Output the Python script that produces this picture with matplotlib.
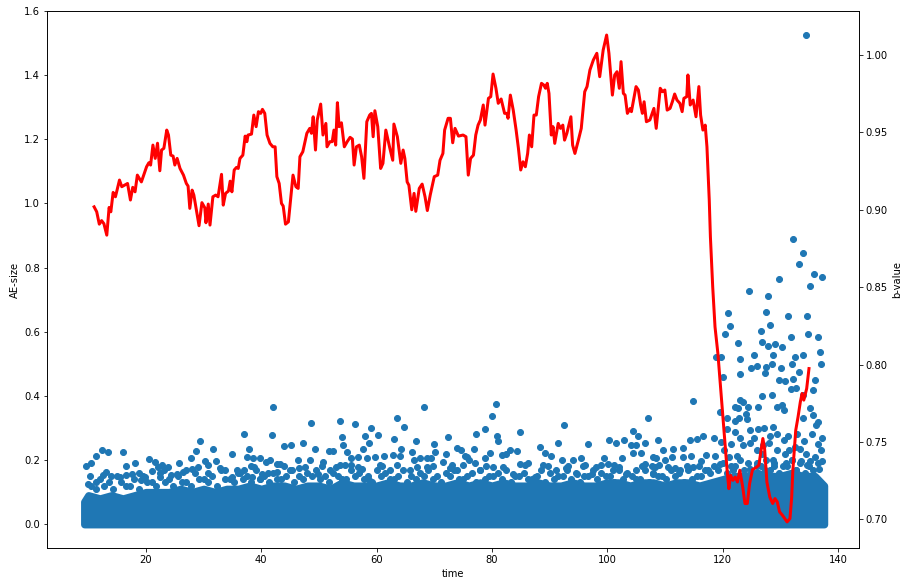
import matplotlib
matplotlib.use("Agg")
import matplotlib.pyplot as plt

# saturated base of the AE cloud: upper edge (centres) of the solid band per time
core_t = [9.3, 10, 12, 14, 16, 18, 20, 22, 24, 26, 28, 30, 32, 34, 36, 38, 40, 42, 44, 46,
          48, 50, 52, 54, 56, 58, 60, 62, 64, 66, 68, 70, 72, 74, 76, 78, 80, 82, 84, 86,
          88, 90, 92, 94, 96, 98, 100, 102, 104, 106, 108, 110, 112, 114, 116, 118, 120, 122,
          124, 126, 128, 130, 132, 134, 136, 137.6]
core_top = [0.07, 0.09, 0.08, 0.09, 0.08, 0.09, 0.10, 0.10, 0.10, 0.11, 0.10, 0.11, 0.10, 0.11,
            0.11, 0.12, 0.11, 0.12, 0.12, 0.11, 0.12, 0.12, 0.11, 0.13, 0.12, 0.12, 0.12, 0.13,
            0.12, 0.12, 0.13, 0.12, 0.12, 0.13, 0.12, 0.13, 0.12, 0.13, 0.12, 0.12, 0.13, 0.12,
            0.12, 0.13, 0.12, 0.12, 0.13, 0.13, 0.12, 0.13, 0.13, 0.12, 0.13, 0.13, 0.12, 0.13,
            0.14, 0.15, 0.15, 0.16, 0.15, 0.15, 0.16, 0.15, 0.15, 0.12]

# ragged upper rim of the band (two staggered rows)
edge_t = [10.5, 12.0, 13.5, 15.0, 16.5, 18.0, 19.5, 21.0, 22.5, 24.0,
          25.5, 27.0, 28.5, 30.0, 31.5, 33.0, 34.5, 36.0, 37.5, 39.0,
          40.5, 42.0, 43.5, 45.0, 46.5, 48.0, 49.5, 51.0, 52.5, 54.0,
          55.5, 57.0, 58.5, 60.0, 61.5, 63.0, 64.5, 66.0, 67.5, 69.0,
          70.5, 72.0, 73.5, 75.0, 76.5, 78.0, 79.5, 81.0, 82.5, 84.0,
          85.5, 87.0, 88.5, 90.0, 91.5, 93.0, 94.5, 96.0, 97.5, 99.0,
          100.5, 102.0, 103.5, 105.0, 106.5, 108.0, 109.5, 111.0, 112.5, 114.0,
          115.5, 117.0, 118.5, 120.0, 121.5, 123.0, 124.5, 126.0, 127.5, 129.0,
          130.5, 132.0, 133.5, 135.0, 136.5]
edge_v = [0.12, 0.14, 0.13, 0.15, 0.12, 0.14, 0.15, 0.13, 0.16, 0.14,
          0.15, 0.13, 0.16, 0.14, 0.15, 0.17, 0.14, 0.16, 0.15, 0.17,
          0.15, 0.16, 0.14, 0.17, 0.15, 0.16, 0.17, 0.15, 0.16, 0.14,
          0.17, 0.16, 0.15, 0.17, 0.16, 0.14, 0.17, 0.15, 0.16, 0.17,
          0.15, 0.16, 0.17, 0.14, 0.16, 0.17, 0.15, 0.16, 0.17, 0.15,
          0.16, 0.14, 0.17, 0.16, 0.15, 0.17, 0.16, 0.15, 0.17, 0.16,
          0.15, 0.17, 0.16, 0.14, 0.17, 0.16, 0.15, 0.17, 0.16, 0.17,
          0.15, 0.17, 0.18, 0.19, 0.18, 0.20, 0.19, 0.18, 0.20, 0.19,
          0.18, 0.20, 0.19, 0.18, 0.19]
edge2_t = [11.25, 12.75, 14.25, 15.75, 17.25, 18.75, 20.25, 21.75, 23.25, 24.75,
           26.25, 27.75, 29.25, 30.75, 32.25, 33.75, 35.25, 36.75, 38.25, 39.75,
           41.25, 42.75, 44.25, 45.75, 47.25, 48.75, 50.25, 51.75, 53.25, 54.75,
           56.25, 57.75, 59.25, 60.75, 62.25, 63.75, 65.25, 66.75, 68.25, 69.75,
           71.25, 72.75, 74.25, 75.75, 77.25, 78.75, 80.25, 81.75, 83.25, 84.75,
           86.25, 87.75, 89.25, 90.75, 92.25, 93.75, 95.25, 96.75, 98.25, 99.75,
           101.25, 102.75, 104.25, 105.75, 107.25, 108.75, 110.25, 111.75, 113.25, 114.75,
           116.25, 117.75, 119.25, 120.75, 122.25, 123.75, 125.25, 126.75, 128.25, 129.75,
           131.25, 132.75, 134.25, 135.75]
edge2_v = [0.11, 0.12, 0.11, 0.13, 0.12, 0.11, 0.13, 0.12, 0.13, 0.12,
           0.13, 0.12, 0.14, 0.13, 0.12, 0.14, 0.13, 0.14, 0.13, 0.14,
           0.13, 0.14, 0.15, 0.13, 0.14, 0.15, 0.14, 0.13, 0.15, 0.14,
           0.15, 0.14, 0.13, 0.15, 0.14, 0.15, 0.13, 0.14, 0.15, 0.14,
           0.13, 0.15, 0.14, 0.15, 0.13, 0.14, 0.15, 0.14, 0.13, 0.15,
           0.14, 0.15, 0.13, 0.14, 0.15, 0.14, 0.13, 0.15, 0.14, 0.15,
           0.13, 0.14, 0.15, 0.14, 0.13, 0.15, 0.14, 0.15, 0.13, 0.14,
           0.15, 0.16, 0.17, 0.16, 0.18, 0.17, 0.16, 0.18, 0.17, 0.16,
           0.18, 0.17, 0.16, 0.17]

# individual events standing out above the band (time < 118)
fringe_t = [42.1, 37.0, 41.9, 29.4, 12.3, 13.4, 11.3, 16.0, 31.6, 28.6, 37.9, 35.0, 10.4, 9.6,
            20.6, 21.6, 22.8, 23.9, 25.8, 27.8, 18.1, 16.6, 30.2, 30.8, 32.1, 37.5, 38.6, 39.8,
            40.9, 42.8, 38.3, 10.3, 12.6, 13.0, 16.6, 17.5, 22.1, 29.1, 33.7, 35.8, 38.8, 40.2,
            41.2, 10.0, 11.4, 15.5, 19.2, 19.8, 22.4, 24.4, 26.5, 27.0, 25.3, 30.8, 34.9, 36.3,
            38.4, 39.8, 42.7,
            68.2, 48.7, 53.6, 56.2, 63.5, 64.8, 59.0, 54.0, 58.0, 60.3, 63.1, 66.9, 72.4, 43.9,
            45.1, 47.3, 49.3, 54.2, 54.8, 51.7, 52.5, 57.6, 58.6, 64.3, 66.2, 70.0, 70.1, 73.9,
            74.7, 41.5, 43.2, 46.4, 48.4, 50.7, 53.6, 55.5, 56.8, 58.3, 59.7, 61.2, 62.9, 64.0,
            66.5, 67.5, 68.7, 69.5, 72.1, 71.6, 75.3, 73.0, 60.6, 45.3, 47.6, 49.9, 51.9, 54.5,
            56.8, 58.7, 62.3, 65.8, 68.7, 73.9, 76.0,
            80.7, 80.1, 78.8, 77.3, 80.8, 81.1, 84.9, 92.5, 107.1, 88.3, 91.4, 96.6, 100.3, 101.6,
            102.9, 104.5, 105.4, 104.1, 105.0, 106.5, 104.5, 105.8, 108.8, 76.9, 79.6, 83.1, 84.3,
            89.2, 90.3, 92.1, 94.1, 95.4, 99.4, 102.5, 101.2, 108.4, 75.6, 77.0, 78.8, 81.7, 82.5,
            86.3, 88.8, 93.2, 96.1, 98.1, 100.1, 106.5, 107.7, 84.9, 77.9, 80.2, 83.7, 87.4, 91.2,
            94.7, 97.3, 101.0, 103.3, 105.0, 107.9,
            114.8, 109.6, 111.4, 113.2, 114.3, 115.5, 116.6, 108.0, 110.0, 111.3, 113.2, 114.6,
            116.3, 117.2, 108.3, 110.5, 112.6, 114.9, 117.5,
            14.0, 18.8, 21.0, 23.2, 28.0, 32.8, 37.0, 44.0, 46.5, 50.5, 53.0, 55.5, 57.5, 61.0,
            63.5, 67.0, 69.8, 72.8, 75.0, 79.0, 82.0, 85.8, 89.8, 92.8, 95.8, 99.0, 102.0, 106.0,
            109.0, 111.8, 113.8, 116.0]
fringe_v = [0.366, 0.280, 0.278, 0.259, 0.231, 0.224, 0.213, 0.226, 0.234, 0.228, 0.236, 0.218,
            0.191, 0.181, 0.202, 0.194, 0.184, 0.177, 0.191, 0.205, 0.192, 0.181, 0.197, 0.184,
            0.197, 0.210, 0.205, 0.207, 0.194, 0.189, 0.181, 0.151, 0.153, 0.163, 0.153, 0.158,
            0.177, 0.179, 0.168, 0.170, 0.179, 0.158, 0.160, 0.124, 0.132, 0.147, 0.139, 0.147,
            0.147, 0.153, 0.163, 0.168, 0.158, 0.160, 0.147, 0.160, 0.147, 0.142, 0.163,
            0.365, 0.314, 0.322, 0.312, 0.332, 0.303, 0.301, 0.272, 0.275, 0.278, 0.267, 0.260,
            0.272, 0.243, 0.248, 0.254, 0.234, 0.246, 0.226, 0.229, 0.228, 0.236, 0.252, 0.236,
            0.226, 0.249, 0.226, 0.237, 0.231, 0.199, 0.189, 0.199, 0.201, 0.194, 0.184, 0.205,
            0.210, 0.205, 0.210, 0.212, 0.217, 0.212, 0.199, 0.205, 0.205, 0.205, 0.220, 0.194,
            0.212, 0.184, 0.184, 0.168, 0.179, 0.158, 0.168, 0.184, 0.179, 0.137, 0.168, 0.168,
            0.179, 0.168, 0.199,
            0.376, 0.338, 0.296, 0.280, 0.275, 0.259, 0.289, 0.308, 0.330, 0.241, 0.252, 0.249,
            0.264, 0.254, 0.262, 0.291, 0.275, 0.246, 0.246, 0.254, 0.221, 0.223, 0.262, 0.233,
            0.223, 0.231, 0.229, 0.223, 0.212, 0.199, 0.201, 0.205, 0.205, 0.207, 0.184, 0.207,
            0.210, 0.191, 0.205, 0.215, 0.220, 0.191, 0.184, 0.181, 0.184, 0.177, 0.189, 0.189,
            0.181, 0.187, 0.168, 0.179, 0.158, 0.147, 0.168, 0.158, 0.158, 0.168, 0.158, 0.168,
            0.158,
            0.385, 0.231, 0.236, 0.237, 0.262, 0.267, 0.275, 0.210, 0.199, 0.210, 0.210, 0.212,
            0.197, 0.215, 0.179, 0.177, 0.168, 0.179, 0.168,
            0.150, 0.160, 0.165, 0.170, 0.172, 0.175, 0.168, 0.180, 0.175, 0.182, 0.178, 0.185,
            0.173, 0.180, 0.185, 0.178, 0.182, 0.175, 0.185, 0.180, 0.178, 0.185, 0.180, 0.175,
            0.182, 0.185, 0.178, 0.180, 0.185, 0.175, 0.182, 0.180]

# burst of larger events before failure (time >= 118)
late_t = [132.2, 133.9, 133.2, 135.9, 137.2, 135.2, 129.8, 124.6, 127.9, 121.0, 127.6, 131.4,
          134.7, 121.3, 128.3, 126.6, 120.4, 122.6, 126.8, 127.9, 129.1, 130.4, 131.9, 134.9,
          136.6, 136.9, 137.1, 118.9, 119.8, 123.0, 125.5, 128.7, 132.6, 133.9, 128.6, 125.0,
          125.9, 127.6, 130.1, 132.0, 133.3, 123.1, 120.1, 127.3, 129.8, 130.8, 132.2, 135.7,
          136.0, 131.9, 132.8, 126.8, 128.5, 134.0, 123.0, 123.6, 122.1, 122.7, 124.5, 124.1,
          119.5, 126.2, 130.4, 129.5, 130.7, 135.1, 133.9, 135.7, 136.3, 136.6, 120.8, 122.2,
          122.8, 124.2, 120.7, 122.2, 124.7, 126.2, 127.2, 128.8, 129.5, 128.3, 131.3, 130.7,
          118.5, 119.8, 123.5, 124.8, 127.1, 128.0, 132.6, 133.7, 135.1, 137.2, 118.7, 121.2,
          122.5, 125.9, 129.4, 130.8, 133.4, 136.0, 119.5, 121.9, 124.8, 127.4, 132.8, 134.6,
          136.8, 121.5, 123.0, 125.5, 126.8, 128.8, 131.5, 132.0, 134.2, 135.5, 136.5, 137.0,
          120.2, 126.0, 129.0, 131.0, 133.0, 134.5, 137.3]
late_v = [0.889, 0.845, 0.811, 0.779, 0.771, 0.742, 0.765, 0.726, 0.711, 0.657, 0.662, 0.650,
          0.650, 0.618, 0.622, 0.602, 0.592, 0.566, 0.569, 0.555, 0.561, 0.551, 0.584, 0.592,
          0.584, 0.538, 0.501, 0.522, 0.522, 0.514, 0.526, 0.526, 0.522, 0.526, 0.499, 0.488,
          0.493, 0.489, 0.486, 0.501, 0.475, 0.467, 0.460, 0.470, 0.449, 0.447, 0.454, 0.418,
          0.449, 0.420, 0.426, 0.399, 0.402, 0.402, 0.387, 0.382, 0.366, 0.361, 0.366, 0.345,
          0.350, 0.366, 0.371, 0.364, 0.355, 0.361, 0.330, 0.340, 0.309, 0.319, 0.330, 0.322,
          0.330, 0.327, 0.298, 0.288, 0.293, 0.298, 0.300, 0.304, 0.281, 0.275, 0.275, 0.262,
          0.270, 0.257, 0.246, 0.252, 0.246, 0.252, 0.241, 0.197, 0.197, 0.197, 0.212, 0.210,
          0.212, 0.231, 0.231, 0.220, 0.233, 0.210, 0.189, 0.168, 0.173, 0.168, 0.168, 0.184,
          0.173, 0.250, 0.270, 0.270, 0.220, 0.200, 0.230, 0.200, 0.260, 0.280, 0.250, 0.230,
          0.230, 0.190, 0.180, 0.190, 0.280, 0.220, 0.270]

# the single largest event
big_t = [134.4]
big_v = [1.526]

# b-value curve
b_time = [11.0, 11.45, 11.9, 12.3, 12.7, 13.2, 13.6, 13.9, 14.3, 14.7, 15.4, 15.8, 16.8, 17.3,
          17.7, 18.1, 18.5, 19.2, 20.1, 20.5, 20.8, 21.2, 21.6, 22.0, 22.4, 22.7, 23.1, 23.6,
          23.9, 24.3, 24.7, 25.0, 25.4, 25.9, 26.5, 27.0, 27.3, 27.6, 28.0, 28.3, 29.2, 29.7,
          30.2, 30.4, 30.8, 31.1, 31.6, 32.1, 32.5, 33.1, 33.4, 33.8, 34.3, 34.6, 34.9, 35.3,
          35.7, 36.0, 36.3, 36.8, 37.2, 37.5, 37.7, 38.3, 38.7, 39.1, 39.5, 39.9, 40.2, 40.6,
          41.0, 41.5, 42.0, 42.4, 42.7, 43.1, 43.5, 43.8, 44.2, 44.7, 45.5, 46.0, 46.4, 46.7,
          47.2, 47.9, 48.4, 48.7, 49.0, 49.4, 49.7, 50.3, 50.7, 51.2, 51.4, 51.9, 52.3, 52.6,
          52.9, 53.2, 53.5, 53.9, 54.4, 54.9, 55.4, 55.8, 56.1, 56.5, 57.0, 57.4, 57.8, 58.3,
          58.8, 59.1, 59.4, 59.7, 60.2, 60.7, 61.1, 61.6,
          62.3, 62.8, 63.0, 63.6, 64.2, 64.6, 64.9, 65.3, 65.6, 66.1, 66.5, 66.8, 67.4, 67.9,
          68.4, 68.8, 69.3, 70.0, 70.6, 71.0, 71.5, 71.8, 72.4, 72.8, 73.2, 73.6, 74.2, 75.0,
          75.5, 75.9, 76.3, 76.8, 77.2, 77.6, 78.0, 78.5, 78.8, 79.4, 79.8, 80.2, 80.7, 81.1,
          81.6, 82.0, 82.2, 82.6, 82.8, 83.2, 83.7, 84.2, 84.6, 85.0, 85.4, 85.8, 86.2, 86.5,
          86.9, 87.3, 87.7, 88.1, 88.6, 89.0, 89.3, 89.6, 89.9, 90.3, 90.6, 90.9, 91.5, 91.9,
          92.3, 92.6, 93.0, 93.7, 94.0, 94.4, 95.0, 95.5, 96.1, 96.5, 97.0, 97.6, 98.2, 98.7,
          99.3, 99.9, 100.3, 100.9, 101.3, 101.7, 102.1, 102.4, 102.8, 103.1, 103.5, 104.0,
          104.2, 105.0, 105.4, 105.8, 106.1, 106.4, 106.8, 107.4, 107.8, 108.1, 108.5, 109.2,
          109.6, 110.0, 110.4, 110.9, 111.3, 111.7, 112.1, 112.6, 113.0, 113.3, 113.8, 114.0,
          114.4, 114.9, 115.4, 115.9, 116.2, 116.6, 117.0, 117.3, 117.7,
          117.9, 118.3, 118.7, 119.2, 119.8, 120.4, 120.8, 121.1, 121.4, 121.8, 122.2, 122.6,
          123.0, 123.5, 123.9, 124.3, 124.7, 125.2, 125.8, 126.3, 126.6, 127.0, 127.3, 127.7,
          128.2, 128.7, 129.1, 129.5, 129.9, 130.4, 130.8, 131.2, 131.7, 132.0, 132.2, 132.7,
          133.1, 133.5, 133.8, 134.1, 134.6, 134.8, 135.0]
b_value = [0.9019, 0.8987, 0.8907, 0.8930, 0.8910, 0.8836, 0.9015, 0.8987, 0.9112, 0.9084,
           0.9192, 0.9149, 0.9170, 0.9063, 0.9145, 0.9116, 0.9224, 0.9180, 0.9278, 0.9304,
           0.9289, 0.9418, 0.9332, 0.9430, 0.9252, 0.9386, 0.9397, 0.9515, 0.9483, 0.9353,
           0.9347, 0.9289, 0.9332, 0.9267, 0.9224, 0.9170, 0.9153, 0.9009, 0.9127, 0.9095,
           0.8897, 0.9046, 0.9013, 0.8916, 0.9037, 0.8901, 0.9084, 0.9095, 0.9084, 0.9229,
           0.9030, 0.9106, 0.9121, 0.9185, 0.9116, 0.9257, 0.9274, 0.9267, 0.9332, 0.9353,
           0.9476, 0.9440, 0.9483, 0.9489, 0.9612, 0.9537, 0.9634, 0.9623, 0.9649, 0.9623,
           0.9483, 0.9429, 0.9407, 0.9407, 0.9214, 0.9170, 0.9041, 0.9024, 0.8907, 0.8922,
           0.9224, 0.9149, 0.9138, 0.9343, 0.9375, 0.9494, 0.9526, 0.9494, 0.9601, 0.9386,
           0.9580, 0.9683, 0.9483, 0.9558, 0.9407, 0.9440, 0.9440, 0.9515, 0.9418, 0.9692,
           0.9537, 0.9562, 0.9407, 0.9440, 0.9468, 0.9457, 0.9289, 0.9407, 0.9418, 0.9343,
           0.9203, 0.9569, 0.9612, 0.9623, 0.9472, 0.9640, 0.9537, 0.9267, 0.9300, 0.9515,
           0.9397, 0.9320, 0.9554, 0.9472, 0.9300, 0.9386, 0.9332, 0.9180, 0.9159, 0.9000,
           0.9106, 0.8990, 0.9138, 0.9166, 0.9084, 0.8995, 0.9095, 0.9214, 0.9224, 0.9320,
           0.9364, 0.9515, 0.9591, 0.9591, 0.9433, 0.9526, 0.9476, 0.9483, 0.9472, 0.9224,
           0.9332, 0.9353, 0.9483, 0.9547, 0.9580, 0.9677, 0.9547, 0.9720, 0.9731, 0.9877,
           0.9785, 0.9688, 0.9716, 0.9655, 0.9623, 0.9623, 0.9591, 0.9741, 0.9644, 0.9515,
           0.9397, 0.9257, 0.9310, 0.9278, 0.9364, 0.9483, 0.9407, 0.9612, 0.9612, 0.9731,
           0.9817, 0.9806, 0.9785, 0.9817, 0.9752, 0.9483, 0.9537, 0.9429, 0.9558, 0.9526,
           0.9547, 0.9450, 0.9494, 0.9601, 0.9418, 0.9364, 0.9450, 0.9526, 0.9763, 0.9796,
           0.9903, 0.9968, 1.0011, 0.9860, 1.0032, 1.0129, 1.0011, 0.9741, 0.9871, 0.9892,
           0.9785, 0.9957, 0.9752, 0.9741, 0.9623, 0.9655, 0.9634, 0.9796, 0.9774, 0.9677,
           0.9623, 0.9698, 0.9569, 0.9580, 0.9623, 0.9655, 0.9526, 0.9785, 0.9763, 0.9774,
           0.9644, 0.9655, 0.9698, 0.9748, 0.9709, 0.9688, 0.9634, 0.9720, 0.9731, 0.9871,
           0.9677, 0.9709, 0.9601, 0.9796, 0.9612, 0.9515, 0.9547, 0.9407, 0.9063,
           0.8825, 0.8502, 0.8243, 0.8071, 0.7790, 0.7511, 0.7317, 0.7198, 0.7284, 0.7252,
           0.7273, 0.7241, 0.7317, 0.7209, 0.7102, 0.7102, 0.7231, 0.7321, 0.7334, 0.7349,
           0.7425, 0.7522, 0.7457, 0.7241, 0.7144, 0.7102, 0.7134, 0.7112, 0.7048, 0.7026,
           0.7005, 0.6983, 0.7005, 0.7144, 0.7317, 0.7575, 0.7661, 0.7759, 0.7813, 0.7770,
           0.7845, 0.7910, 0.7974]

blue = "#1f77b4"

fig, ax = plt.subplots(figsize=(904 / 72, 582 / 72), dpi=72)
fig.subplots_adjust(left=0.052, right=0.950, bottom=0.058, top=0.981)

# solid band of small events; stroke width ~ marker diameter so its edge looks like the dots
band = ax.fill_between(core_t, 0, core_top, facecolor=blue, edgecolor=blue, linewidth=7.5)
band.set_joinstyle("round")
ax.scatter(edge_t, edge_v, color=blue)
ax.scatter(edge2_t, edge2_v, color=blue)
ax.scatter(fringe_t, fringe_v, color=blue)
ax.scatter(late_t, late_v, color=blue)
ax.scatter(big_t, big_v, color=blue)
ax.set_xlim(2.83, 143.64)
ax.set_ylim(-0.075, 1.6)
ax.set_xlabel("time")
ax.set_ylabel("AE-size")

ax2 = ax.twinx()
ax2.plot(b_time, b_value, color="red", linewidth=3)
ax2.set_ylim(0.6813, 1.0284)
ax2.set_ylabel("b-value")

plt.savefig("out.png")
